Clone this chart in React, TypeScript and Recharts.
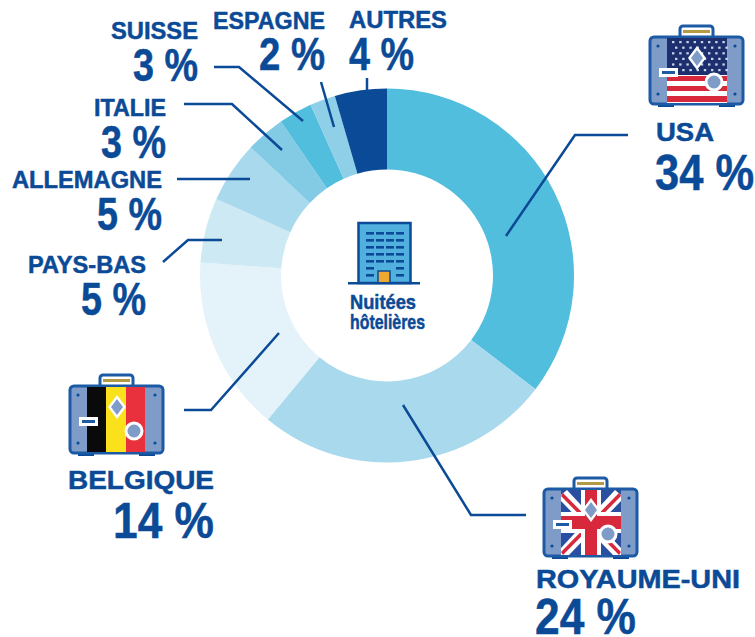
import { PieChart, Pie, Cell } from 'recharts';

const countries = ['USA', 'ROYAUME-UNI', 'BELGIQUE', 'PAYS-BAS', 'ALLEMAGNE', 'ITALIE', 'SUISSE', 'ESPAGNE', 'AUTRES'];
const printedPercents = [34, 24, 14, 5, 5, 3, 3, 2, 4];
const sliceShares = [35.4, 25.6, 15.1, 5.6, 5.3, 3.4, 2.9, 2.2, 4.5];
const sliceColors = ['#52bedd', '#a9d9ec', '#e4f2fa', '#cde9f4', '#a9d9ec', '#83cae5', '#52bedd', '#8fcfe7', '#0b4a96'];

const pieData = countries.map((name, i) => ({ name, value: sliceShares[i] }));

const BLUE = '#0b4a96';
const FONT = '"Liberation Sans", Arial, sans-serif';

const nameBoxes = [
  [656, 141, 58, 26], [536, 588, 204, 26], [68, 489, 146, 26], [28, 273, 118, 24], [12, 188, 150, 24],
  [94, 116, 72, 24], [111, 39, 87, 24], [213, 29, 112, 24], [349, 28, 98, 24],
];
const valueBoxes = [
  [655, 190, 99, 50], [535, 634, 101, 50], [113, 538, 101, 50], [81, 315, 65, 46], [97, 230, 65, 46],
  [101, 158, 65, 46], [133, 81, 65, 46], [259, 70, 66, 46], [349, 70, 65, 46],
];
const leaders = [
  '506,236 575,135 628,135',
  '403,405 471,515 526,515',
  '279,333 211,410 184,410',
  '222,240 188,240 163,262',
  '250,179 177,179',
  '282,150 232,104 184,104',
  '303,121 239,67 214,67',
  '334,127 321,82',
  '367,90 367,78',
];

function Suitcase({ x, y, flag }: { x: number; y: number; flag: 'us' | 'be' | 'uk' }) {
  const stars: [number, number][] = [];
  for (let r = 0; r < 6; r++) for (let c = 0; c < 8; c++) stars.push([23 + c * 7.2 + (r % 2) * 3, 17 + r * 5.6]);
  return (
    <g transform={`translate(${x},${y})`}>
      <rect x={31} y={2} width={33} height={16} rx={3} fill="#fff" stroke="#1c5aa6" strokeWidth={3} />
      <rect x={34} y={6} width={27} height={3} fill="#b59a45" />
      <rect x={9} y={78} width={16} height={5} fill={BLUE} />
      <rect x={70} y={78} width={16} height={5} fill={BLUE} />
      <rect x={1} y={13} width={93} height={67} rx={4} fill="#7f9cc9" stroke="#1c5aa6" strokeWidth={3} />
      {flag === 'be' && (
        <g>
          <rect x={18} y={14} width={19} height={65} fill="#0a0a0a" />
          <rect x={37} y={14} width={20} height={65} fill="#fbe01c" />
          <rect x={57} y={14} width={19} height={65} fill="#e8313c" />
        </g>
      )}
      {flag === 'us' && (
        <g>
          <rect x={18} y={14} width={60} height={65} fill="#fff" />
          <rect x={18} y={14} width={60} height={37} fill="#1d2f6f" />
          {stars.map(([sx, sy], i) => <rect key={i} x={sx} y={sy} width={2.4} height={2.2} fill="#c9d3e6" />)}
          <rect x={18} y={52} width={60} height={5} fill="#d8283c" />
          <rect x={18} y={62} width={60} height={5} fill="#d8283c" />
          <rect x={18} y={72} width={60} height={6} fill="#d8283c" />
        </g>
      )}
      {flag === 'uk' && (
        <g>
          <rect x={18} y={14} width={60} height={65} fill="#2a4fa0" />
          <polygon points="18,19 24,14 78,72 78,79 70,79 18,25" fill="#fff" />
          <polygon points="78,19 72,14 18,72 18,79 26,79 78,25" fill="#fff" />
          <polygon points="18,20 20,17 78,76 76,79" fill="#d8283c" />
          <polygon points="78,20 76,17 18,76 20,79" fill="#d8283c" />
          <rect x={38} y={14} width={20} height={65} fill="#fff" />
          <rect x={18} y={36} width={60} height={21} fill="#fff" />
          <rect x={42} y={14} width={12} height={65} fill="#d8283c" />
          <rect x={18} y={40} width={60} height={13} fill="#d8283c" />
        </g>
      )}
      <polygon points="48,22 57,34 48,46 39,34" fill="#fff" />
      <polygon points="48,26 54,34 48,42 42,34" fill="#7f9cc9" />
      <circle cx={65} cy={58} r={8} fill="#7f9cc9" stroke="#fff" strokeWidth={3} />
      <rect x={10} y={44} width={19} height={9} fill="#fff" />
      <rect x={13} y={47} width={13} height={3} fill="#1c5aa6" />
      <circle cx={9} cy={22} r={1.6} fill={BLUE} />
      <circle cx={86} cy={22} r={1.6} fill={BLUE} />
      <circle cx={9} cy={70} r={1.6} fill={BLUE} />
      <circle cx={86} cy={70} r={1.6} fill={BLUE} />
    </g>
  );
}

function Hotel() {
  const rows = [232, 239, 246, 253, 260, 267, 274];
  const cols = [366, 376, 386, 396];
  return (
    <g>
      <rect x={358.5} y={223} width={52} height={60} fill="#52b0de" stroke={BLUE} strokeWidth={2.5} />
      {rows.map(ry => cols.map(cx => (
        (ry < 267 || cx === 366 || cx === 396) && <rect key={`${ry}-${cx}`} x={cx} y={ry} width={8} height={2.6} fill={BLUE} />
      )))}
      <rect x={378} y={271} width={12} height={12} fill="#eda92f" stroke={BLUE} strokeWidth={1.5} />
      <rect x={348} y={282} width={72} height={2.5} fill={BLUE} />
    </g>
  );
}

function FitText({ box, text }: { box: number[]; text: string }) {
  const [x, y, w, size] = box;
  return (
    <text
      x={x}
      y={y}
      fontFamily={FONT}
      fontWeight={700}
      fontSize={size}
      fill={BLUE}
      stroke={BLUE}
      strokeWidth={0.5}
      textLength={w}
      lengthAdjust="spacingAndGlyphs"
    >
      {text}
    </text>
  );
}

export default function App() {
  return (
    <div style={{ position: 'absolute', left: 0, top: 0, width: 755, height: 637, background: '#fff' }}>
      <PieChart width={755} height={637} margin={{ top: 0, right: 0, bottom: 0, left: 0 }}>
        <Pie
          data={pieData}
          dataKey="value"
          cx={387}
          cy={275.5}
          innerRadius={106}
          outerRadius={187}
          startAngle={90}
          endAngle={-270}
          stroke="none"
          isAnimationActive={false}
        >
          {pieData.map((entry, index) => (
            <Cell key={`cell-${index}`} fill={sliceColors[index]} />
          ))}
        </Pie>
      </PieChart>
      <svg width={755} height={637} style={{ position: 'absolute', left: 0, top: 0, pointerEvents: 'none' }}>
        {leaders.map((pts, i) => (
          <polyline key={i} points={pts} fill="none" stroke={BLUE} strokeWidth={2.5} />
        ))}
        <Suitcase x={649} y={24} flag="us" />
        <Suitcase x={69} y={373} flag="be" />
        <Suitcase x={543} y={476} flag="uk" />
        <Hotel />
        {countries.map((name, i) => <FitText key={name} box={nameBoxes[i]} text={name} />)}
        {printedPercents.map((p, i) => <FitText key={countries[i]} box={valueBoxes[i]} text={`${p} %`} />)}
        <FitText box={[350, 309, 66, 21]} text="Nuitées" />
        <FitText box={[350, 329, 75, 21]} text="hôtelières" />
      </svg>
    </div>
  );
}
